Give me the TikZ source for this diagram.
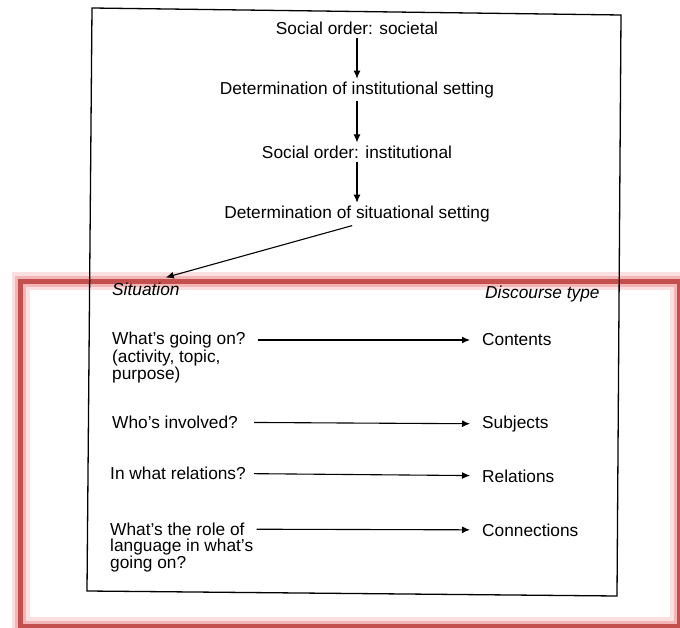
\documentclass[tikz,border=0pt]{standalone}
\usepackage{fontspec}
\setmainfont{Liberation Sans}
\usetikzlibrary{arrows.meta}
\definecolor{hlred}{RGB}{196,80,78}
\definecolor{hlpink}{RGB}{240,165,165}

\begin{document}
\begin{tikzpicture}[x=1pt,y=-1pt]
\tikzstyle{every node}+=[inner sep=2pt,font=\fontsize{17.3}{17.5}\selectfont]
\tikzstyle{arr}=[black,line width=1.1pt,-{Latex[length=8pt,width=7pt]}]
\tikzstyle{lbl}=[anchor=west]
\useasboundingbox (0,0) rectangle (680,628);
% highlight box
\draw [hlpink,line width=18pt,opacity=0.35] (20.5,281.5) rectangle (679,626);
\draw [hlpink,line width=11pt,opacity=0.7] (20.5,281.5) rectangle (679,626);
\draw [hlred,line width=5pt] (20.5,281.5) rectangle (679,626);
% frame
\draw [black,line width=1.3pt] (92,8) -- (621,15) -- (617,596) -- (87,591) -- cycle;
% chain of settings
\node (s1) at (357,28) {Social order: societal};
\node (s2) at (357,90) {Determination of institutional setting};
\node (s3) at (357,152) {Social order: institutional};
\node (s4) at (357,214) {Determination of situational setting};
\draw [arr,shorten <=1pt,shorten >=1pt] (s1) -- (s2);
\draw [arr,shorten <=1pt,shorten >=1pt] (s2) -- (s3);
\draw [arr,shorten <=1pt,shorten >=1pt] (s3) -- (s4);
% headings
\node [lbl] (sit) at (110,289) {\itshape Situation};
\node [lbl] (dt) at (483,294) {\itshape Discourse type};
\draw [arr,shorten <=5pt] (s4.south) -- ([xshift=-16pt,yshift=3pt]sit.north east);
% questions
\node [lbl] (q1) at (110,340) {What's going on?};
\node [lbl] (q1b) at (110,358) {(activity, topic,};
\node [lbl] (q1c) at (110,375) {purpose)};
\node [lbl] (q2) at (110,422) {Who's involved?};
\node [lbl] (q3) at (108,473) {In what relations?};
\node [lbl] (q4) at (108,529) {What's the role of};
\node [lbl] (q4b) at (108,547) {language in what's};
\node [lbl] (q4c) at (108,564) {going on?};
% discourse type
\node [lbl] (a1) at (480,340) {Contents};
\node [lbl] (a2) at (480,424) {Subjects};
\node [lbl] (a3) at (480,476) {Relations};
\node [lbl] (a4) at (480,530) {Connections};
\draw [arr,shorten <=10pt,shorten >=10pt] (q1) -- (a1);
\draw [arr,shorten <=14pt,shorten >=10pt] (q2) -- (a2);
\draw [arr,shorten <=6pt,shorten >=10pt] (q3) -- (a3);
\draw [arr,shorten <=10pt,shorten >=10pt] (q4) -- (a4);
\end{tikzpicture}
\end{document}
